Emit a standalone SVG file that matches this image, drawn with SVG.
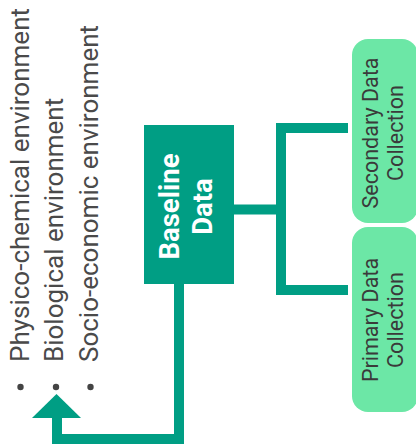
<svg xmlns="http://www.w3.org/2000/svg" width="416" height="446" viewBox="0 0 416 446">
<style>
.lbl{font-family:Roboto,"Liberation Sans",sans-serif;font-size:26px;fill:#4a4a4a}
.box{font-family:Roboto,"Liberation Sans",sans-serif;font-size:21.5px;fill:#3a3a3a;text-anchor:middle}
.bold{font-family:Roboto,"Liberation Sans",sans-serif;font-size:27.5px;font-weight:bold;fill:#ffffff;text-anchor:middle}
.conn{fill:none;stroke:#009e84;stroke-width:10;stroke-linejoin:miter}
</style>
<rect width="416" height="446" fill="#ffffff"/>
<g id="bullets">
<circle cx="20.5" cy="387" r="3.2" fill="#444"/>
<circle cx="56" cy="387" r="3.2" fill="#444"/>
<circle cx="90.5" cy="387" r="3.2" fill="#444"/>
<text class="lbl" transform="translate(28.5,362) rotate(-90)">Physico-chemical environment</text>
<text class="lbl" transform="translate(63,362) rotate(-90)">Biological environment</text>
<text class="lbl" transform="translate(98,362) rotate(-90)">Socio-economic environment</text>
</g>
<g id="connectors">
<path class="conn" d="M179 284 V439 H57 V416"/>
<polygon points="32,418 81,418 56.5,394" fill="#009e84"/>
<path class="conn" d="M234 209.5 H281"/>
<path class="conn" d="M348 128 H281 V290 H348"/>
</g>
<g id="baseline">
<rect x="144" y="125" width="90" height="159" fill="#009e84"/>
<text class="bold" transform="translate(178.5,206.5) rotate(-90)">Baseline</text>
<text class="bold" transform="translate(211.5,206.5) rotate(-90)">Data</text>
</g>
<g id="secondary">
<rect x="352" y="39" width="66" height="184" rx="16" fill="#6ce7a6"/>
<text class="box" transform="translate(378,133) rotate(-90)">Secondary Data</text>
<text class="box" transform="translate(403,133) rotate(-90)">Collection</text>
</g>
<g id="primary">
<rect x="352" y="227" width="66" height="185" rx="16" fill="#6ce7a6"/>
<text class="box" transform="translate(378,320) rotate(-90)">Primary Data</text>
<text class="box" transform="translate(403,320) rotate(-90)">Collection</text>
</g>
</svg>
